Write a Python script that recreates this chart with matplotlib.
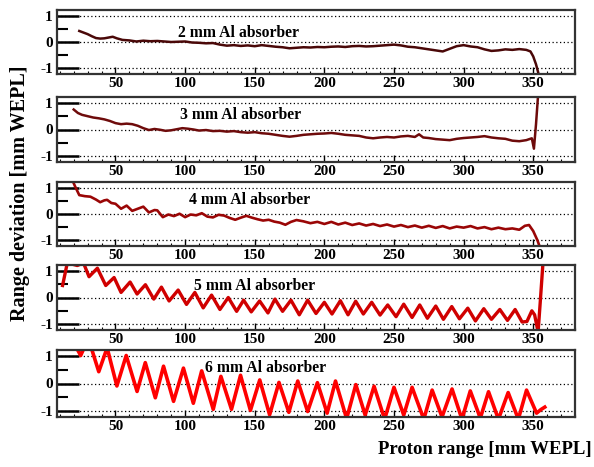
import matplotlib
matplotlib.use("Agg")
import matplotlib.pyplot as plt
from matplotlib.ticker import MultipleLocator

plt.rcParams["font.family"] = ["Liberation Serif", "DejaVu Serif"]
plt.rcParams["font.weight"] = "bold"

# 2 mm Al absorber
x_2mm = [24, 27, 30, 33, 36, 39, 42, 45, 48, 51, 55, 60, 65, 70, 75, 80, 85, 90, 95,
         100, 105, 110, 115, 120, 125, 130, 135, 140, 145, 150, 155, 160, 165, 170,
         175, 180, 185, 190, 195, 200, 205, 210, 215, 220, 225, 230, 235, 240, 245,
         250, 255, 260, 265, 270, 275, 280, 285, 290, 295, 300, 305, 310, 315, 320,
         325, 330, 335, 340, 345, 348, 350, 352, 354]
y_2mm = [0.42, 0.36, 0.30, 0.22, 0.15, 0.13, 0.14, 0.17, 0.20, 0.14, 0.08, 0.06, 0.02,
         0.05, 0.03, 0.04, 0.02, 0.00, 0.01, 0.02, -0.02, -0.03, -0.05, -0.04, -0.10,
         -0.14, -0.12, -0.15, -0.13, -0.16, -0.12, -0.15, -0.18, -0.20, -0.24, -0.22,
         -0.20, -0.21, -0.19, -0.20, -0.18, -0.17, -0.19, -0.16, -0.15, -0.17, -0.16,
         -0.14, -0.12, -0.10, -0.13, -0.18, -0.20, -0.24, -0.28, -0.32, -0.36, -0.26,
         -0.16, -0.12, -0.17, -0.20, -0.28, -0.34, -0.32, -0.28, -0.30, -0.27, -0.30,
         -0.36, -0.55, -0.85, -1.25]

# 3 mm Al absorber
x_3mm = [20, 23, 26, 30, 34, 38, 42, 46, 50, 54, 58, 62, 66, 70, 74, 78, 82, 86, 90,
         94, 98, 102, 106, 110, 115, 120, 125, 130, 135, 140, 145, 150, 155, 160, 165,
         170, 175, 180, 185, 190, 195, 200, 205, 210, 215, 220, 225, 230, 235, 240,
         245, 250, 255, 260, 265, 268, 271, 275, 280, 285, 290, 295, 300, 305, 310,
         315, 320, 325, 330, 335, 340, 345, 349, 350.5, 352, 353.5]
y_3mm = [0.75, 0.62, 0.55, 0.50, 0.45, 0.42, 0.38, 0.32, 0.24, 0.20, 0.22, 0.20, 0.14,
         0.05, -0.02, 0.02, -0.01, -0.05, -0.03, 0.01, 0.05, 0.03, 0.00, -0.04, -0.02,
         -0.06, -0.05, -0.08, -0.06, -0.10, -0.12, -0.10, -0.14, -0.16, -0.20, -0.24,
         -0.27, -0.24, -0.20, -0.18, -0.16, -0.15, -0.13, -0.16, -0.20, -0.22, -0.24,
         -0.30, -0.33, -0.30, -0.28, -0.30, -0.26, -0.24, -0.28, -0.18, -0.30, -0.32,
         -0.36, -0.38, -0.40, -0.35, -0.32, -0.30, -0.28, -0.25, -0.30, -0.33, -0.35,
         -0.42, -0.44, -0.40, -0.33, -0.72, 0.20, 1.30]

# 4 mm Al absorber
x_4mm = [19, 21, 24, 28, 32, 36, 39, 42, 44, 47, 50, 54, 58, 62, 66, 70, 74, 78, 80,
         84, 88, 92, 96, 100, 104, 108, 112, 116, 120, 124, 128, 132, 136, 140, 144,
         148, 152, 156, 160, 164, 168, 172, 176, 180, 185, 190, 195, 200, 205, 210,
         215, 220, 225, 230, 235, 240, 245, 250, 255, 260, 265, 270, 275, 280, 285,
         290, 295, 300, 305, 310, 315, 320, 325, 330, 335, 340, 344, 347, 350, 353, 355]
y_4mm = [1.30, 1.05, 0.72, 0.68, 0.66, 0.55, 0.45, 0.52, 0.54, 0.42, 0.39, 0.20, 0.32,
         0.12, 0.20, 0.28, 0.06, 0.15, 0.14, -0.12, -0.02, -0.08, 0.01, -0.12, -0.02,
         -0.05, 0.03, -0.10, -0.13, -0.03, -0.06, -0.15, -0.22, -0.14, -0.07, -0.14,
         -0.20, -0.25, -0.22, -0.29, -0.33, -0.41, -0.30, -0.23, -0.28, -0.35, -0.30,
         -0.38, -0.30, -0.40, -0.33, -0.42, -0.36, -0.44, -0.38, -0.46, -0.40, -0.48,
         -0.42, -0.50, -0.44, -0.52, -0.45, -0.53, -0.46, -0.55, -0.48, -0.52, -0.46,
         -0.55, -0.50, -0.58, -0.52, -0.58, -0.55, -0.60, -0.45, -0.42, -0.65, -1.00,
         -1.30]

# 5 mm Al absorber
x_5mm = [12, 15.4, 19, 22.6, 27, 31, 37, 43, 49, 54, 60.5, 65.5, 71.5, 77.5, 83, 88.5,
         95, 101, 107, 113, 119, 125, 131, 137, 142, 147.5, 153.5, 159.5, 164.5, 170,
         176, 182, 188, 194, 200, 205.5, 211.5, 217, 222.5, 228, 234, 240, 245.5,
         251.5, 257, 263, 268.5, 274, 280, 285.5, 291.5, 297, 303, 308.5, 314.5, 320,
         326, 331.5, 337, 342, 345.5, 349, 351, 353.5, 355, 357]
y_5mm = [0.45, 1.30, 1.25, 1.20, 1.30, 0.78, 1.10, 0.45, 0.75, 0.19, 0.58, 0.13, 0.48,
         -0.06, 0.39, -0.13, 0.28, -0.26, 0.19, -0.39, 0.09, -0.45, 0.00, -0.52, -0.10,
         -0.54, -0.13, -0.58, -0.06, -0.52, -0.10, -0.65, -0.10, -0.60, -0.18, -0.62,
         -0.12, -0.65, -0.14, -0.62, -0.18, -0.66, -0.28, -0.72, -0.25, -0.75, -0.28,
         -0.78, -0.32, -0.82, -0.34, -0.80, -0.40, -0.88, -0.42, -0.82, -0.45, -0.86,
         -0.45, -0.92, -0.90, -0.50, -0.65, -1.30, -0.20, 1.30]

# 6 mm Al absorber
x_6mm = [22, 25, 27.5, 32, 38, 44, 51, 57.7, 65.5, 71.4, 78.6, 84.5, 91.7, 98.8, 105.9,
         111.9, 120.2, 125.7, 133.3, 139.8, 146.9, 153.6, 160.7, 167.4, 174.5, 180.9,
         188, 195, 202, 208, 216, 222.6, 229.3, 235.7, 243.3, 250, 257, 263, 271.4,
         277.4, 284.5, 291.7, 298.8, 304.8, 312, 317.9, 325, 332, 339.3, 345.2, 352.4,
         355.5, 358.3]
y_6mm = [1.30, 1.02, 1.30, 1.40, 0.43, 1.30, -0.09, 1.02, -0.29, 0.76, -0.52, 0.63,
         -0.65, 0.56, -0.72, 0.46, -0.94, 0.26, -0.94, 0.30, -0.98, 0.13, -1.14, 0.04,
         -1.05, 0.09, -1.02, 0.03, -1.08, 0.09, -1.28, -0.04, -1.15, -0.10, -1.30,
         -0.14, -1.15, -0.14, -1.30, -0.24, -1.22, -0.20, -1.30, -0.27, -1.26, -0.30,
         -1.30, -0.33, -1.30, -0.24, -1.08, -0.95, -0.86]

panels = [
    (x_2mm, y_2mm, "2 mm Al absorber", "#4a0808", 1.8, 138, 0.36),
    (x_3mm, y_3mm, "3 mm Al absorber", "#6e0b0b", 1.8, 140, 0.55),
    (x_4mm, y_4mm, "4 mm Al absorber", "#9a0606", 1.9, 146, 0.52),
    (x_5mm, y_5mm, "5 mm Al absorber", "#d00000", 2.4, 150, 0.45),
    (x_6mm, y_6mm, "6 mm Al absorber", "#ff0000", 2.6, 158, 0.55),
]

# axes boxes in pixels: (top, bottom)
boxes = [(10, 74), (97, 162), (182, 246), (265, 330), (350, 417)]
W, H = 594, 467

fig = plt.figure(figsize=(W / 100, H / 100), dpi=100)

for (x, y, label, color, lw, tx, ty), (top, bot) in zip(panels, boxes):
    ax = fig.add_axes([57 / W, 1 - bot / H, (575 - 57) / W, (bot - top) / H])
    ax.plot(x, y, color=color, lw=lw, solid_joinstyle="round")
    ax.set_xlim(8, 380)
    ax.set_ylim(-1.22, 1.22)
    for yg in (-1, 0, 1):
        ax.axhline(yg, color="black", lw=0.9, ls=(0, (1, 2)), zorder=0)
    ax.text(tx, ty, label, ha="center", va="center", fontsize=11.3, fontweight="bold")
    ax.xaxis.set_major_locator(MultipleLocator(50))
    ax.xaxis.set_minor_locator(MultipleLocator(10))
    ax.set_yticks([-1, 0, 1])
    ax.set_yticklabels(["-1", "0", "1"])
    ax.yaxis.set_minor_locator(MultipleLocator(0.5))
    ax.tick_params(axis="x", which="major", direction="in", length=5, width=1,
                   labelsize=11, pad=2)
    ax.tick_params(axis="x", which="minor", direction="in", length=2.5, width=0.8)
    ax.tick_params(axis="y", which="major", direction="in", length=16, width=1.8,
                   labelsize=11, pad=3)
    ax.tick_params(axis="y", which="minor", direction="in", length=8, width=1.5)
    ax.xaxis.set_major_formatter(plt.FuncFormatter(lambda v, p: f"{v:.0f}" if 40 <= v <= 360 else ""))
    for s in ax.spines.values():
        s.set_linewidth(1.6)
        s.set_color("#333333")
    for t in ax.get_xticklabels() + ax.get_yticklabels():
        t.set_fontweight("bold")

fig.text(20 / W, 1 - 193 / H, "Range deviation [mm WEPL]", rotation=90, ha="center",
         va="center", fontsize=14.5, fontweight="bold")
fig.text(592 / W, 1 - 450 / H, "Proton range [mm WEPL]", ha="right", va="center",
         fontsize=13.5, fontweight="bold")

fig.savefig("out.png", dpi=100)
